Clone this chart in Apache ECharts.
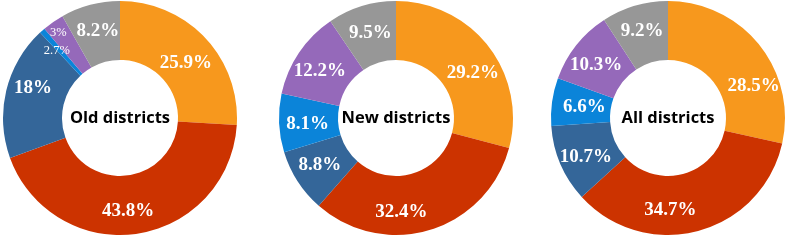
<!DOCTYPE html>
<html><head><meta charset="utf-8">
<script src="https://cdn.jsdelivr.net/npm/echarts@6/dist/echarts.min.js"></script>
<style>html,body{margin:0;padding:0;background:#fff}#c{width:789px;height:240px}</style>
</head><body><div id="c"></div>
<script>
// categories (slice order, clockwise from 12 o'clock)
const categories = ['Cat A', 'Cat B', 'Cat C', 'Cat D', 'Cat E', 'Cat F'];
const chartTitles = ['Old districts', 'New districts', 'All districts'];
// slice sizes as drawn
const oldValues = [26.0, 43.6, 18.6, 0.8, 3.0, 8.2];
const newValues = [29.2, 32.4, 8.8, 8.1, 12.2, 9.5];
const allValues = [28.5, 34.7, 10.7, 6.6, 10.3, 9.2];
// printed labels
const oldLabels = ['25.9%', '43.8%', '18%', '2.7%', '3%', '8.2%'];
const newLabels = ['29.2%', '32.4%', '8.8%', '8.1%', '12.2%', '9.5%'];
const allLabels = ['28.5%', '34.7%', '10.7%', '6.6%', '10.3%', '9.2%'];

const colors = ['#F7981D', '#CC3300', '#346699', '#0B84D9', '#9569BA', '#979797'];

// layout / style config
const centersX = [120, 396, 668];
const centerY = 118;
const labelOffsets = [
  [[0, 7], [-5, 4], [1, -9], [-3, 0], [-10, -11], [1, 1]],
  [[5, 10], [-21, 7], [0, -2], [2, 2], [-1, 4], [1, 2]],
  [[15, 25], [-21, 5], [1, 3], [6, 2], [-1, 3], [0, 0]]
];
const smallLabelIdx = [[3, 4], [], []];

const valueSets = [oldValues, newValues, allValues];
const labelSets = [oldLabels, newLabels, allLabels];

const series = valueSets.map((vals, ci) => ({
  type: 'pie',
  center: [centersX[ci], centerY],
  radius: [58, 117],
  startAngle: 90,
  clockwise: true,
  avoidLabelOverlap: false,
  silent: true,
  animation: false,
  itemStyle: { borderWidth: 0 },
  data: vals.map((v, i) => ({
    name: categories[i],
    value: v,
    itemStyle: { color: colors[i] },
    label: {
      show: true,
      position: 'inside',
      formatter: labelSets[ci][i],
      offset: labelOffsets[ci][i],
      color: '#fff',
      fontFamily: 'Liberation Serif',
      fontWeight: smallLabelIdx[ci].includes(i) ? 'normal' : '600',
      fontSize: smallLabelIdx[ci].includes(i) ? 12.5 : 19
    }
  }))
}));

const graphic = chartTitles.map((t, ci) => ({
  type: 'text',
  x: centersX[ci],
  y: centerY,
  style: {
    text: t,
    fill: '#000',
    font: 'bold 16.5px "Open Sans"',
    align: 'center',
    verticalAlign: 'middle'
  }
}));

const chart = echarts.init(document.getElementById('c'), null, { renderer: 'canvas' });
chart.setOption({ animation: false, series, graphic });
</script>
</body></html>
